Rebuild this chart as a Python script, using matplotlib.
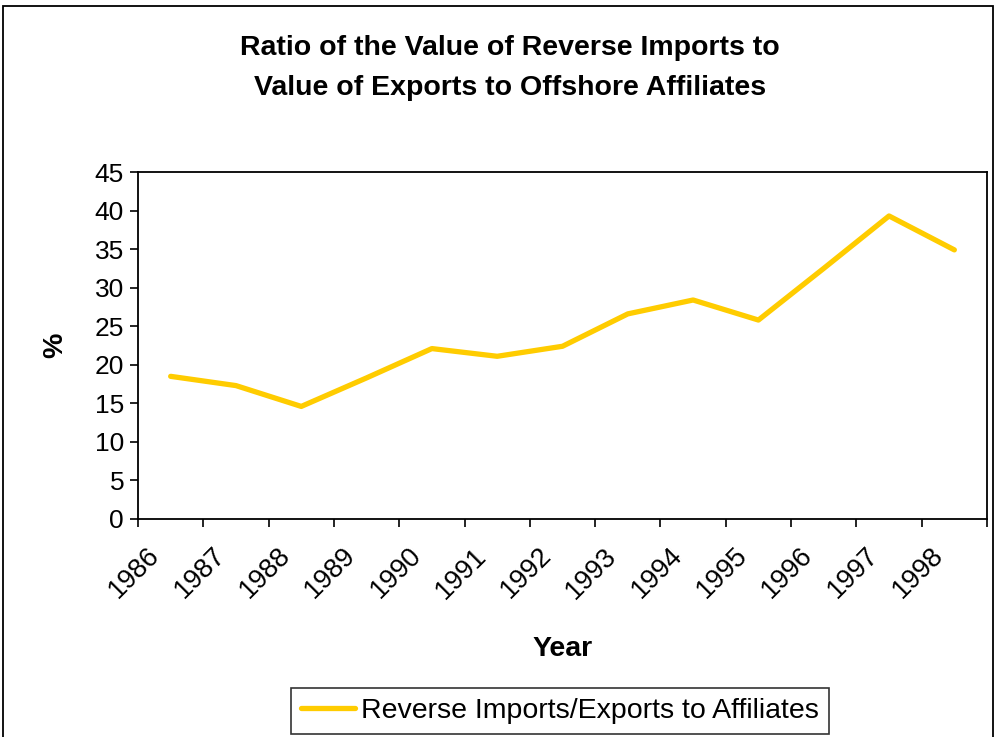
import matplotlib.pyplot as plt
from matplotlib.patches import Rectangle
from matplotlib.transforms import ScaledTranslation
import numpy as np

plt.rcParams['font.family'] = ['Liberation Sans', 'DejaVu Sans']

years = ['1986', '1987', '1988', '1989', '1990', '1991', '1992',
         '1993', '1994', '1995', '1996', '1997', '1998']
ratio = [18.5, 17.3, 14.6, 18.3, 22.1, 21.1, 22.4,
         26.6, 28.4, 25.8, 32.5, 39.3, 34.9]

fig = plt.figure(figsize=(9.96, 7.37), dpi=100)
ax = fig.add_axes([138 / 996, 1 - 519 / 737, (987 - 138) / 996, (519 - 172) / 737])

x = np.arange(len(years)) + 0.5
ax.plot(x, ratio, color='#FFCC00', linewidth=3.8, solid_capstyle='round',
        label='Reverse Imports/Exports to Affiliates')

ax.set_xlim(0, len(years))
ax.set_ylim(0, 45)
ax.set_yticks(range(0, 46, 5))
ax.set_xticks(np.arange(len(years) + 1))
ax.set_xticklabels([])
ax.set_xticks(x, minor=True)
ax.set_xticklabels(years, minor=True, rotation=45, ha='right',
                   rotation_mode='anchor', fontsize=19.5)
ax.tick_params(axis='x', which='minor', length=0, pad=17)
ax.tick_params(axis='x', which='major', length=6, width=1.2, direction='out')
ax.tick_params(axis='y', length=6, width=1.2, labelsize=19, pad=4)
shift = ScaledTranslation(-24 / 100, 0, fig.dpi_scale_trans)
for lab in ax.get_xticklabels(minor=True):
    lab.set_transform(lab.get_transform() + shift)
for s in ax.spines.values():
    s.set_linewidth(1.3)

ax.set_xlabel('Year', fontsize=20.5, fontweight='bold', labelpad=23)
ax.set_ylabel('%', fontsize=20.5, fontweight='bold', labelpad=19)

fig.text(0.512, 1 - 68 / 737, 'Ratio of the Value of Reverse Imports to\nValue of Exports to Offshore Affiliates',
         ha='center', va='center', fontsize=20.5, fontweight='bold', linespacing=1.68)

leg = fig.legend(loc='center', bbox_to_anchor=(560 / 996, 1 - 711 / 737),
                 fontsize=20.5, frameon=True, fancybox=False, edgecolor='black',
                 handlelength=1.9, borderpad=0.35, handletextpad=0.2,
                 borderaxespad=0)
leg.get_frame().set_linewidth(1.2)

fig.patches.append(Rectangle((3 / 996, -0.05), 990 / 996, 1.05 - 6 / 737,
                             transform=fig.transFigure, fill=False,
                             edgecolor='black', linewidth=1.3))

fig.savefig('out.png', dpi=100)
